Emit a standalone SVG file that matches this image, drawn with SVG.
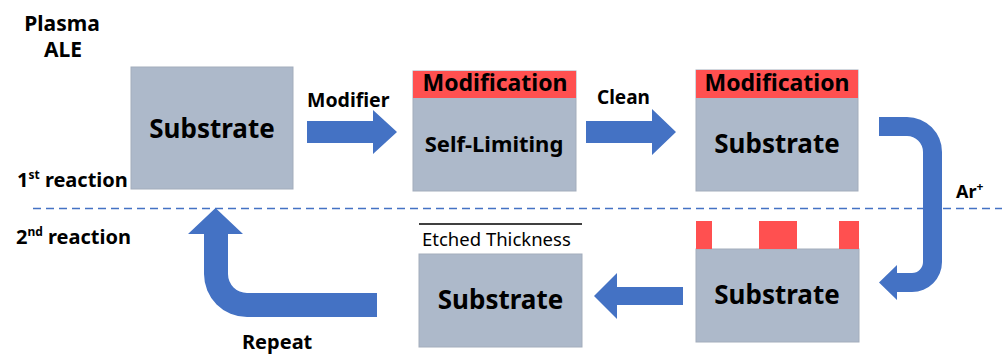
<svg xmlns="http://www.w3.org/2000/svg" width="1002" height="354" viewBox="0 0 1002 354">
  <style>
    .lbl { font-family: "Noto Sans", "Liberation Sans", sans-serif; font-weight: bold; fill: #000; }
    .box { fill: #ADB9CA; stroke: #A3ADBC; stroke-width: 1; }
    .mod { fill: #FF5050; }
    .arrow { fill: #4472C4; }
  </style>
  <rect width="1002" height="354" fill="#fff"/>

  <!-- titles and stage labels -->
  <text class="lbl" x="62" y="31" font-size="21" text-anchor="middle">Plasma</text>
  <text class="lbl" x="63" y="57" font-size="21" text-anchor="middle">ALE</text>
  <text class="lbl" x="17" y="187" font-size="20">1<tspan font-size="12" dy="-8">st</tspan><tspan dy="8"> reaction</tspan></text>
  <text class="lbl" x="16" y="244" font-size="20">2<tspan font-size="12" dy="-8">nd</tspan><tspan dy="8"> reaction</tspan></text>

  <!-- reaction separator -->
  <line x1="33" y1="208.5" x2="1002" y2="208.5" stroke="#4472C4" stroke-width="1.5" stroke-dasharray="8,5"/>

  <!-- connectors -->
  <g id="connectors">
    <path class="arrow" d="M307,121 H373 V110 L397,132 L373,154 V143 H307 Z"/>
    <path class="arrow" d="M586,121 H652 V109 L676,132 L652,155 V143 H586 Z"/>
    <path class="arrow" d="M879,117 H907 A35,35 0 0 1 942,152 V262 A30,30 0 0 1 912,292 H897 V300 L879,282.5 L897,265 V273 H912 A11,11 0 0 0 923,262 V152 A16,16 0 0 0 907,136 H879 Z"/>
    <path class="arrow" d="M683,287 H617 V273 L594,296 L617,319 V305 H683 Z"/>
    <path class="arrow" d="M215.5,208 L243,234 H228 V274 A19,19 0 0 0 247,293 H377 V317 H247 A43,43 0 0 1 204,274 V234 H188 Z"/>
    <text class="lbl" x="307" y="107" font-size="19.5">Modifier</text>
    <text class="lbl" x="597" y="104" font-size="19">Clean</text>
    <text class="lbl" x="956" y="198" font-size="18">Ar<tspan font-size="12" dy="-7">+</tspan></text>
    <text class="lbl" x="242" y="349" font-size="20">Repeat</text>
  </g>

  <!-- initial substrate -->
  <g id="substrate-start">
    <rect class="box" x="131" y="67" width="162" height="122"/>
    <text class="lbl" x="212" y="138" font-size="26" text-anchor="middle">Substrate</text>
  </g>

  <!-- modified, self-limiting -->
  <g id="self-limiting">
    <rect class="box" x="413" y="71" width="163" height="120"/>
    <rect class="mod" x="413" y="71" width="163" height="27"/>
    <text class="lbl" x="495" y="91" font-size="23" text-anchor="middle">Modification</text>
    <text class="lbl" x="494" y="152" font-size="22" text-anchor="middle">Self-Limiting</text>
  </g>

  <!-- cleaned, modified surface -->
  <g id="modified-substrate">
    <rect class="box" x="696" y="70" width="162" height="121"/>
    <rect class="mod" x="696" y="70" width="162" height="28"/>
    <text class="lbl" x="777" y="91" font-size="23" text-anchor="middle">Modification</text>
    <text class="lbl" x="777" y="153" font-size="26" text-anchor="middle">Substrate</text>
  </g>

  <!-- ion bombardment removes modified layer -->
  <g id="ion-etched">
    <rect class="box" x="696" y="249" width="163" height="93"/>
    <rect class="mod" x="696" y="221" width="16" height="28"/>
    <rect class="mod" x="759" y="221" width="38" height="28"/>
    <rect class="mod" x="839" y="221" width="20" height="28"/>
    <text class="lbl" x="777" y="304" font-size="26" text-anchor="middle">Substrate</text>
  </g>

  <!-- etched result -->
  <g id="etched-substrate">
    <line x1="419" y1="224" x2="582" y2="224" stroke="#000" stroke-width="1.5"/>
    <text x="422" y="246" font-family="Noto Sans, Liberation Sans, sans-serif" font-size="18.5" fill="#000">Etched Thickness</text>
    <rect class="box" x="419" y="254" width="163" height="93"/>
    <text class="lbl" x="500.5" y="309" font-size="26" text-anchor="middle">Substrate</text>
  </g>
</svg>
